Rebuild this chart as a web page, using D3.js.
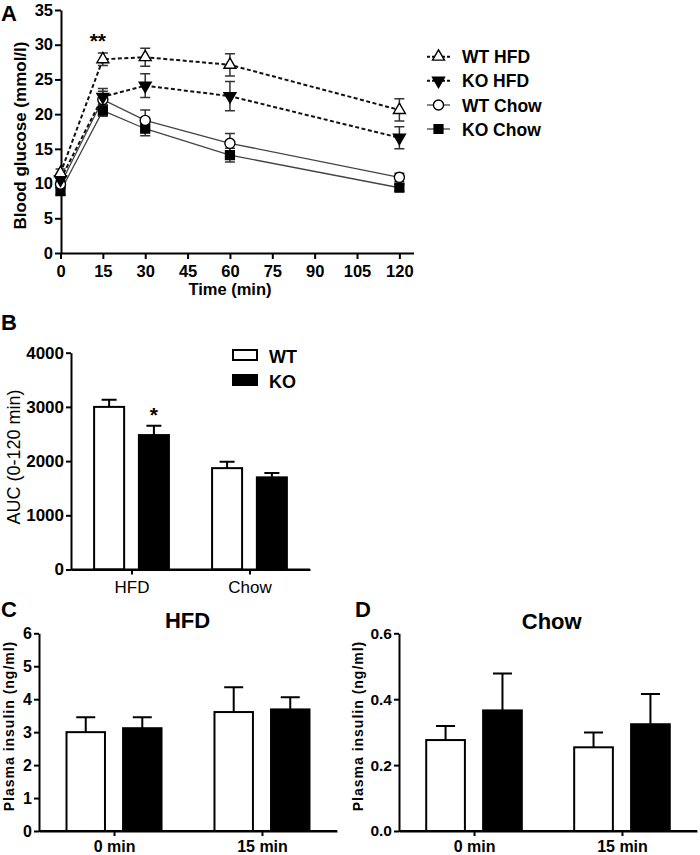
<!DOCTYPE html>
<html><head><meta charset="utf-8">
<script src="https://cdn.jsdelivr.net/npm/d3@7"></script>
<style>
body{margin:0;background:#fff}
text{font-family:"Liberation Sans",Arial,Helvetica,sans-serif;fill:#000}
</style>
</head><body>
<svg id="c" width="700" height="855"></svg>
<script>
// ---------- DATA ----------
const timePoints = [0, 15, 30, 60, 120];
const timeTicks = [0, 15, 30, 45, 60, 75, 90, 105, 120];
const glucoseTicks = [0, 5, 10, 15, 20, 25, 30, 35];
const seriesNames = ["WT HFD", "KO HFD", "WT Chow", "KO Chow"];
const wtHfd = [11.5, 27.9, 28.2, 27.1, 20.6];
const wtHfdErr = [0.6, 0.9, 1.3, 1.6, 1.6];
const koHfd = [10.6, 22.5, 24.1, 22.6, 16.6];
const koHfdErr = [0.6, 1.2, 1.7, 2.1, 1.6];
const wtChow = [9.9, 22.1, 19.1, 15.8, 10.9];
const wtChowErr = [0.5, 1.2, 1.5, 1.4, 0.6];
const koChow = [8.9, 20.5, 17.9, 14.1, 9.4];
const koChowErr = [0.5, 0.8, 1.0, 1.0, 0.5];

const aucGroups = ["HFD", "Chow"];
const genotypes = ["WT", "KO"];
const aucWT = [3000, 1870];
const aucWTErr = [130, 120];
const aucKO = [2480, 1700];
const aucKOErr = [170, 80];
const aucTicks = [0, 1000, 2000, 3000, 4000];

const insulinTimes = ["0 min", "15 min"];
const insHfdWT = [3.0, 3.61];
const insHfdWTErr = [0.45, 0.75];
const insHfdKO = [3.12, 3.69];
const insHfdKOErr = [0.33, 0.37];
const insHfdTicks = [0, 1, 2, 3, 4, 5, 6];
const insChowWT = [0.276, 0.254];
const insChowWTErr = [0.043, 0.045];
const insChowKO = [0.366, 0.324];
const insChowKOErr = [0.112, 0.092];
const insChowTicks = [0, 0.2, 0.4, 0.6];

// ---------- DRAW ----------
const svg = d3.select("#c");
const FONT = '"Liberation Sans",Arial,Helvetica,sans-serif';

function styleAxis(g, size, weight) {
  g.select(".domain").attr("stroke", "#000").attr("stroke-width", 2);
  g.selectAll(".tick line").attr("stroke", "#000").attr("stroke-width", 2);
  g.selectAll(".tick text").attr("font-family", FONT).attr("font-size", size)
    .attr("font-weight", weight).attr("fill", "#000");
}
function panelLetter(t, x, y) {
  svg.append("text").attr("x", x).attr("y", y).attr("font-size", 22)
    .attr("font-weight", "bold").text(t);
}

// ===== Panel A =====
panelLetter("A", 1, 21);
const xA = d3.scaleLinear().domain([0, 125]).range([60.5, 413.5]);
const yA = d3.scaleLinear().domain([0, 35]).range([253, 10]);

svg.append("g").attr("transform", "translate(0,253)")
  .call(d3.axisBottom(xA).tickValues(timeTicks).tickSize(6).tickSizeOuter(0).tickPadding(6))
  .call(g => styleAxis(g, 16.5, "bold"));
svg.append("g").attr("transform", "translate(61,0)")
  .call(d3.axisLeft(yA).tickValues(glucoseTicks).tickSize(6).tickSizeOuter(0).tickPadding(2))
  .call(g => styleAxis(g, 16.5, "bold"));

svg.append("text").attr("x", xA(60)).attr("y", 295).attr("text-anchor", "middle")
  .attr("font-size", 16.5).attr("font-weight", "bold").text("Time (min)");
svg.append("text").attr("transform", `translate(25.5,${(yA(0) + yA(35)) / 2 + 4}) rotate(-90)`)
  .attr("text-anchor", "middle").attr("font-size", 17).attr("font-weight", "bold")
  .text("Blood glucose (mmol/l)");

const seriesA = [
  { name: seriesNames[0], v: wtHfd, e: wtHfdErr, dash: "4,2.5", lw: 2, color: "#111", sym: "triUp", fill: "#fff" },
  { name: seriesNames[1], v: koHfd, e: koHfdErr, dash: "4,2.5", lw: 2, color: "#111", sym: "triDown", fill: "#000" },
  { name: seriesNames[2], v: wtChow, e: wtChowErr, dash: null, lw: 1.3, color: "#444", sym: "circle", fill: "#fff" },
  { name: seriesNames[3], v: koChow, e: koChowErr, dash: null, lw: 1.3, color: "#444", sym: "square", fill: "#000" }
];
function symPath(s) {
  if (s === "triUp" || s === "triDown") return d3.symbol(d3.symbolTriangle, 62)();
  if (s === "circle") return d3.symbol(d3.symbolCircle, 80)();
  return d3.symbol(d3.symbolSquare, 78)();
}
function drawMarker(g, s, fill, x, y) {
  g.append("path").attr("d", symPath(s))
    .attr("transform", `translate(${x},${y})` + (s === "triDown" ? " rotate(180)" : ""))
    .attr("fill", fill).attr("stroke", "#000").attr("stroke-width", 1.4);
}
const line = d3.line().x(d => xA(d[0])).y(d => yA(d[1]));
const gA = svg.append("g");
seriesA.slice().reverse().forEach(s => {
  const pts = timePoints.map((t, i) => [t, s.v[i]]);
  gA.append("path").attr("d", line(pts)).attr("fill", "none")
    .attr("stroke", s.color).attr("stroke-width", s.lw)
    .attr("stroke-dasharray", s.dash);
});
seriesA.slice().reverse().forEach(s => {
  timePoints.forEach((t, i) => {
    const x = xA(t), y1 = yA(s.v[i] + s.e[i]), y2 = yA(s.v[i] - s.e[i]);
    gA.append("path").attr("d", `M${x},${y1}V${y2}M${x - 5},${y1}H${x + 5}M${x - 5},${y2}H${x + 5}`)
      .attr("stroke", "#333").attr("stroke-width", 1.5).attr("fill", "none");
  });
});
seriesA.slice().reverse().forEach(s => {
  timePoints.forEach((t, i) => drawMarker(gA, s.sym, s.fill, xA(t), yA(s.v[i])));
});
svg.append("text").attr("x", xA(15) - 5).attr("y", 48).attr("text-anchor", "middle")
  .attr("font-size", 21).attr("font-weight", "bold").text("**");

// legend A
const legRows = [56.7, 80.7, 105, 129];
seriesA.forEach((s, i) => {
  const y = legRows[i];
  svg.append("line").attr("x1", 427).attr("x2", 450).attr("y1", y).attr("y2", y)
    .attr("stroke", s.color).attr("stroke-width", s.lw).attr("stroke-dasharray", s.dash ? "3,2" : null);
  drawMarker(svg, s.sym, s.fill, 438.5, y);
  svg.append("text").attr("x", 462).attr("y", y + 6.5).attr("font-size", 17.5)
    .attr("font-weight", "bold").text(s.name);
});

// ===== bar chart helper =====
function barPanel(opt) {
  const x0 = d3.scalePoint().domain(opt.groups).range(opt.xr).padding(opt.pad);
  const x1 = d3.scaleBand().domain(genotypes).range([-opt.half, opt.half]).paddingInner(opt.inner);
  const y = d3.scaleLinear().domain(opt.ydom).range(opt.yr);
  const g = svg.append("g");
  const sets = [
    { k: "WT", v: opt.wt, e: opt.wtErr, fill: "#fff" },
    { k: "KO", v: opt.ko, e: opt.koErr, fill: "#000" }
  ];
  sets.forEach(s => {
    opt.groups.forEach((grp, i) => {
      const bx = x0(grp) + x1(s.k), bw = x1.bandwidth();
      const cx = bx + bw / 2, top = y(s.v[i]), et = y(s.v[i] + s.e[i]);
      g.append("path").attr("d", `M${cx},${top}V${et}M${cx - opt.cap},${et}H${cx + opt.cap}`)
        .attr("stroke", "#000").attr("stroke-width", 2);
      g.append("rect").attr("x", bx).attr("y", top).attr("width", bw)
        .attr("height", y(opt.ydom[0]) - top).attr("fill", s.fill)
        .attr("stroke", "#000").attr("stroke-width", 2);
    });
  });
  svg.append("g").attr("transform", `translate(0,${opt.yr[0]})`)
    .call(g2 => {
      g2.append("line").attr("x1", opt.xr[0]).attr("x2", opt.xr[1]).attr("stroke", "#000").attr("stroke-width", 2);
    })
    .call(d3.axisBottom(x0).tickSize(5).tickSizeOuter(0).tickPadding(opt.xpad))
    .call(g2 => styleAxis(g2, opt.xfs, opt.xfw));
  svg.append("g").attr("transform", `translate(${opt.xr[0]},0)`)
    .call(d3.axisLeft(y).tickValues(opt.yticks).tickFormat(opt.fmt).tickSize(5).tickSizeOuter(0).tickPadding(2))
    .call(g2 => styleAxis(g2, opt.yfs, "bold"));
  return { x0, x1, y };
}

// ===== Panel B =====
panelLetter("B", 1, 330);
const B = barPanel({
  groups: aucGroups, xr: [71, 310], pad: 0.513, half: 37.4, inner: 0.33,
  ydom: [0, 4000], yr: [569.5, 352.7], yticks: aucTicks, fmt: d3.format("d"),
  wt: aucWT, wtErr: aucWTErr, ko: aucKO, koErr: aucKOErr, cap: 7.5,
  xpad: 6, xfs: 17, xfw: "normal", yfs: 17
});
svg.append("text").attr("transform", "translate(20,457) rotate(-90)").attr("text-anchor", "middle")
  .attr("font-size", 18).text("AUC (0-120 min)");
svg.append("text").attr("x", B.x0("HFD") + B.x1("KO") + B.x1.bandwidth() / 2).attr("y", 422)
  .attr("text-anchor", "middle").attr("font-size", 21).attr("font-weight", "bold").text("*");
// legend B
svg.append("rect").attr("x", 233).attr("y", 350).attr("width", 24).attr("height", 10)
  .attr("fill", "#fff").attr("stroke", "#000").attr("stroke-width", 2);
svg.append("rect").attr("x", 233).attr("y", 375).attr("width", 24).attr("height", 10)
  .attr("fill", "#000").attr("stroke", "#000").attr("stroke-width", 2);
svg.append("text").attr("x", 269).attr("y", 362.5).attr("font-size", 18).attr("font-weight", "bold").text(genotypes[0]);
svg.append("text").attr("x", 269).attr("y", 387.5).attr("font-size", 18).attr("font-weight", "bold").text(genotypes[1]);

// ===== Panel C =====
panelLetter("C", 1, 617);
barPanel({
  groups: insulinTimes, xr: [39, 337], pad: 0.507, half: 47.5, inner: 0.32,
  ydom: [0, 6], yr: [831, 633.3], yticks: insHfdTicks, fmt: d3.format("d"),
  wt: insHfdWT, wtErr: insHfdWTErr, ko: insHfdKO, koErr: insHfdKOErr, cap: 9.5,
  xpad: 5, xfs: 16, xfw: "bold", yfs: 16
});
svg.append("text").attr("x", 187.5).attr("y", 628).attr("text-anchor", "middle")
  .attr("font-size", 22).attr("font-weight", "bold").text("HFD");
svg.append("text").attr("transform", "translate(13.5,726) rotate(-90)").attr("text-anchor", "middle")
  .attr("font-size", 14).attr("font-weight", "bold").attr("letter-spacing", 1).text("Plasma insulin (ng/ml)");

// ===== Panel D =====
panelLetter("D", 355, 617);
barPanel({
  groups: insulinTimes, xr: [399, 697], pad: 0.507, half: 47.8, inner: 0.32,
  ydom: [0, 0.6], yr: [831, 633.3], yticks: insChowTicks, fmt: d3.format(".1f"),
  wt: insChowWT, wtErr: insChowWTErr, ko: insChowKO, koErr: insChowKOErr, cap: 9.5,
  xpad: 5, xfs: 16, xfw: "bold", yfs: 15.5
});
svg.append("text").attr("x", 551.7).attr("y", 629).attr("text-anchor", "middle")
  .attr("font-size", 22).attr("font-weight", "bold").text("Chow");
svg.append("text").attr("transform", "translate(363,726) rotate(-90)").attr("text-anchor", "middle")
  .attr("font-size", 14).attr("font-weight", "bold").attr("letter-spacing", 1).text("Plasma insulin (ng/ml)");
</script>
</body></html>
